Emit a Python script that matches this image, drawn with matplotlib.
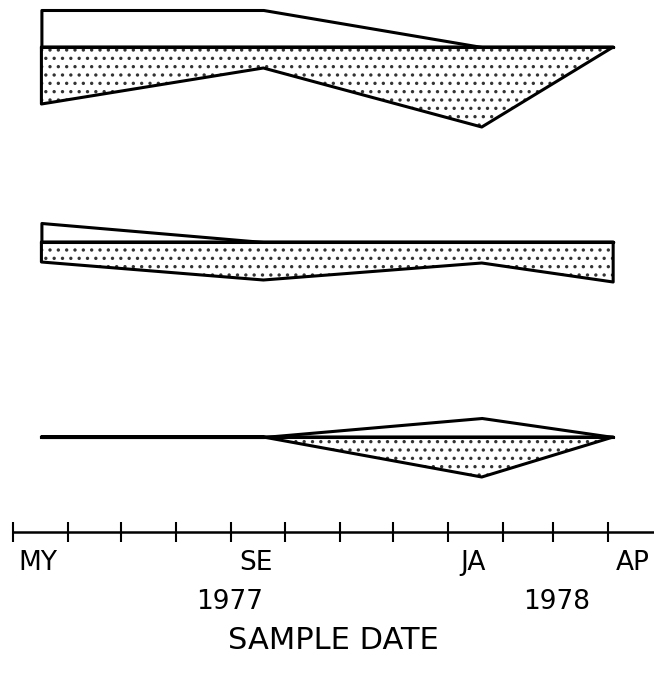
import matplotlib
matplotlib.use('Agg')
import matplotlib.pyplot as plt
import pandas as pd

# sample dates (x) and band widths above / below each baseline
sample_dates = pd.to_datetime(['1977-05-17', '1977-09-19', '1978-01-20', '1978-04-04'])

p1_upper = [3.7, 3.7, 0.0, 0.0]
p1_lower = [5.7, 2.1, 8.0, 0.0]
p2_upper = [1.9, 0.0, 0.0, 0.0]
p2_lower = [2.0, 3.8, 2.1, 4.0]
p3_upper = [0.0, 0.0, 1.9, 0.0]
p3_lower = [0.0, 0.0, 4.0, 0.0]

month_ticks = pd.date_range('1977-05-01', '1978-04-01', freq='MS')
month_label_dates = pd.to_datetime(['1977-05-15', '1977-09-15', '1978-01-15', '1978-04-15'])
month_labels = ['MY', 'SE', 'JA', 'AP']
year_dates = pd.to_datetime(['1977-08-31', '1978-03-03'])
year_labels = ['1977', '1978']

panels = [(p1_upper, p1_lower), (p2_upper, p2_lower), (p3_upper, p3_lower)]
baselines = [48.5, 29.0, 9.5]

plt.rcParams['hatch.linewidth'] = 1.2

fig = plt.figure(figsize=(6.54, 6.75), dpi=100)
ax = fig.add_axes([13 / 654, 143 / 675, 641 / 654, 532 / 675])

for (upper, lower), base in zip(panels, baselines):
    top = [base + u for u in upper]
    bot = [base - l for l in lower]
    ax.fill_between(sample_dates, base, top, facecolor='white', edgecolor='black', linewidth=2.2)
    # stippled lower band
    ax.fill_between(sample_dates, base, bot, facecolor='white', edgecolor='#333333',
                    hatch='..', linewidth=0)
    ax.fill_between(sample_dates, base, bot, facecolor='none', edgecolor='black', linewidth=2.2)
    ax.plot([sample_dates[0], sample_dates[-1]], [base, base], color='black', linewidth=2.2)

ax.set_xlim(pd.Timestamp('1977-05-01'), pd.Timestamp('1978-04-27'))
ax.set_ylim(0, 53.2)

for s in ['left', 'top', 'right']:
    ax.spines[s].set_visible(False)
ax.spines['bottom'].set_linewidth(1.8)
ax.set_yticks([])

ax.set_xticks(month_ticks)
ax.set_xticklabels([''] * len(month_ticks))
ax.tick_params(axis='x', which='major', direction='inout', length=14, width=1.5)
ax.set_xticks(month_label_dates, minor=True)
ax.set_xticklabels(month_labels, minor=True, fontsize=19)
ax.tick_params(axis='x', which='minor', length=0, pad=13)

for d, t in zip(year_dates, year_labels):
    ax.text(d, -7.0, t, ha='center', va='center', fontsize=19)

ax.set_xlabel('SAMPLE DATE', fontsize=22, labelpad=36)

plt.savefig('out.png', dpi=100)
